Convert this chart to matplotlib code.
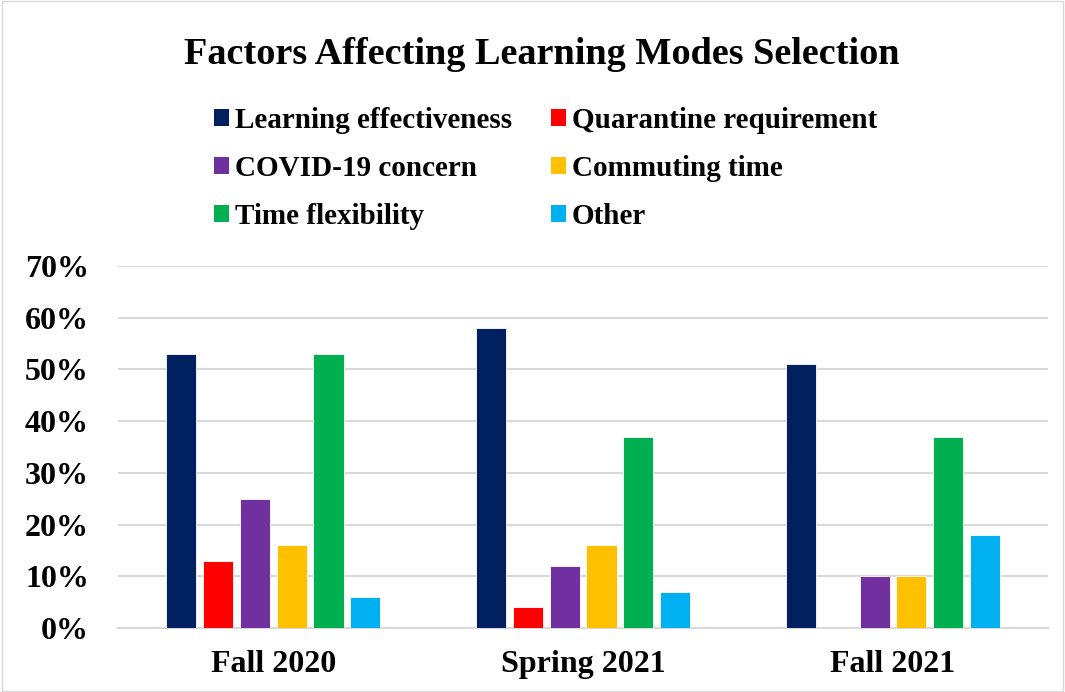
import numpy as np
import matplotlib.pyplot as plt
from matplotlib.patches import Patch, Rectangle

# Data
terms = ["Fall 2020", "Spring 2021", "Fall 2021"]
factors = ["Learning effectiveness", "Quarantine requirement", "COVID-19 concern",
           "Commuting time", "Time flexibility", "Other"]
learning_eff = [53, 58, 51]
quarantine = [13, 4, 0]
covid = [25, 12, 10]
commuting = [16, 16, 10]
flexibility = [53, 37, 37]
other = [6, 7, 18]
colors = ["#002060", "#FF0000", "#7030A0", "#FFC000", "#00B050", "#00B0F0"]

series = [learning_eff, quarantine, covid, commuting, flexibility, other]

plt.rcParams["font.family"] = ["Liberation Serif", "DejaVu Serif"]
plt.rcParams["font.weight"] = "bold"

fig = plt.figure(figsize=(10.65, 6.92), dpi=100)
ax = fig.add_axes([0.111, 0.0925, 0.873, 0.5231])

x = np.arange(len(terms))
width = 0.097
step = 0.119
for i, (vals, col) in enumerate(zip(series, colors)):
    offs = (i - 2.5) * step
    ax.bar(x + offs, vals, width, color=col, edgecolor="white", linewidth=0.6, zorder=3)

ax.set_xlim(-0.5, 2.5)
ax.set_ylim(0, 70)
ax.set_yticks(range(0, 71, 10))
ax.set_yticklabels([f"{v}%" for v in range(0, 71, 10)], fontsize=23, fontweight="bold")
ax.set_xticks(x)
ax.set_xticklabels(terms, fontsize=23, fontweight="bold")
ax.tick_params(axis="y", length=0, pad=21)
ax.tick_params(axis="x", length=0, pad=16)
ax.grid(axis="y", color="#D9D9D9", linewidth=1.5, zorder=0)
for s in ["top", "right", "left"]:
    ax.spines[s].set_visible(False)
ax.spines["bottom"].set_color("#D9D9D9")
ax.spines["bottom"].set_linewidth(1.5)

# Title
fig.text(0.509, 1 - 55 / 692, "Factors Affecting Learning Modes Selection",
         ha="center", va="center", fontsize=27.5, fontweight="bold")

# Legend (column-major order to match the layout)
handles = [Patch(facecolor=c, edgecolor="none") for c in colors]
order = [0, 2, 4, 1, 3, 5]
fig.legend([handles[i] for i in order], [factors[i] for i in order],
           loc="upper left", bbox_to_anchor=(0.201, 0.846), ncol=2,
           frameon=False, handlelength=0.51, handleheight=0.51,
           handletextpad=0.2, columnspacing=1.34, labelspacing=0.72,
           borderpad=0, borderaxespad=0, prop={"weight": "bold", "size": 21})

# Light border around the chart area
fig.patches.append(Rectangle((0.002, 0.002), 0.996, 0.996, transform=fig.transFigure,
                             fill=False, edgecolor="#D9D9D9", linewidth=1))

plt.savefig("out.png", dpi=100)
plt.close()
